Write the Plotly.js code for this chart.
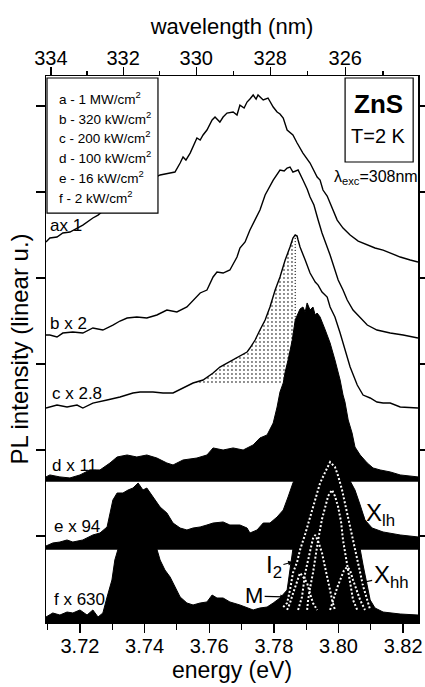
<!DOCTYPE html>
<html><head><meta charset="utf-8">
<script src="https://cdn.plot.ly/plotly-3.0.1.min.js"></script>
<style>html,body{margin:0;padding:0;background:#fff;}#chart{width:425px;height:687px;}</style>
</head><body><div id="chart"></div>
<script>
const FONT = 'Liberation Sans, Arial, Helvetica, sans-serif';

// ---- spectra: photon energy (eV) and intensity above each curve's own baseline (arb. u.) ----
const aE = [3.7095,3.7107,3.7129,3.7147,3.7169,3.7191,3.7209,3.7240,3.7256,3.7293,3.7355,3.7417,3.7448,3.7479,3.7494,3.7510,3.7519,3.7528,3.7541,3.7562,3.7572,3.7581,3.7593,3.7609,3.7618,3.7633,3.7643,3.7655,3.7674,3.7686,3.7695,3.7708,3.7717,3.7726,3.7736,3.7745,3.7751,3.7767,3.7782,3.7798,3.7810,3.7819,3.7829,3.7841,3.7850,3.7859,3.7872,3.7890,3.7912,3.7934,3.7943,3.7952,3.7965,3.7980,3.7996,3.8014,3.8036,3.8061,3.8089,3.8113,3.8138,3.8166,3.8191,3.8222,3.8246];
const aI = [0.267,0.314,0.326,0.372,0.384,0.430,0.465,0.547,0.581,0.698,0.837,0.988,1.047,1.070,1.081,1.186,1.256,1.221,1.302,1.477,1.453,1.512,1.570,1.686,1.721,1.663,1.721,1.767,1.779,1.744,1.860,1.826,1.895,1.930,1.977,1.930,1.977,1.919,1.942,1.837,1.779,1.756,1.709,1.570,1.535,1.512,1.419,1.302,1.186,1.023,0.988,0.872,0.802,0.674,0.523,0.430,0.349,0.279,0.233,0.198,0.174,0.128,0.093,0.058,0.035];

const bE = [3.7095,3.7107,3.7129,3.7147,3.7178,3.7209,3.7240,3.7271,3.7302,3.7324,3.7346,3.7376,3.7407,3.7438,3.7469,3.7500,3.7531,3.7550,3.7572,3.7593,3.7612,3.7624,3.7643,3.7664,3.7686,3.7695,3.7711,3.7726,3.7748,3.7757,3.7773,3.7798,3.7819,3.7832,3.7841,3.7850,3.7859,3.7875,3.7890,3.7903,3.7912,3.7924,3.7937,3.7949,3.7974,3.7999,3.8014,3.8027,3.8045,3.8067,3.8089,3.8119,3.8160,3.8200,3.8246];
const bI = [0.058,0.058,0.035,0.081,0.093,0.081,0.140,0.116,0.174,0.221,0.256,0.267,0.256,0.291,0.349,0.326,0.384,0.465,0.547,0.581,0.733,0.791,0.779,0.814,0.965,1.070,1.140,1.279,1.453,1.512,1.686,1.860,1.977,1.965,2.000,2.012,1.953,1.977,1.860,1.756,1.663,1.570,1.395,1.244,0.988,0.698,0.581,0.465,0.349,0.267,0.174,0.116,0.081,0.058,0.023];

const cE = [3.7095,3.7107,3.7129,3.7160,3.7191,3.7209,3.7240,3.7284,3.7324,3.7364,3.7386,3.7426,3.7457,3.7488,3.7519,3.7550,3.7581,3.7612,3.7633,3.7655,3.7686,3.7717,3.7726,3.7742,3.7757,3.7773,3.7788,3.7804,3.7819,3.7835,3.7850,3.7859,3.7866,3.7872,3.7875,3.7881,3.7897,3.7912,3.7928,3.7937,3.7949,3.7965,3.7974,3.7989,3.8005,3.8020,3.8036,3.8058,3.8076,3.8098,3.8119,3.8138,3.8160,3.8191,3.8246];
const cI = [0.023,0.035,0.058,0.035,0.058,0.023,0.081,0.116,0.151,0.198,0.209,0.209,0.198,0.198,0.256,0.314,0.349,0.430,0.500,0.547,0.616,0.674,0.721,0.814,0.930,1.047,1.198,1.395,1.547,1.744,1.895,2.000,2.035,2.023,1.977,1.895,1.744,1.593,1.488,1.453,1.372,1.314,1.198,1.081,0.895,0.698,0.500,0.291,0.174,0.140,0.093,0.081,0.081,0.035,0.023];

const dE = [3.7095,3.7107,3.7138,3.7169,3.7200,3.7231,3.7262,3.7293,3.7315,3.7346,3.7376,3.7407,3.7438,3.7469,3.7488,3.7519,3.7562,3.7593,3.7612,3.7643,3.7674,3.7705,3.7736,3.7757,3.7779,3.7798,3.7810,3.7819,3.7829,3.7835,3.7844,3.7850,3.7857,3.7866,3.7875,3.7881,3.7890,3.7897,3.7903,3.7912,3.7921,3.7928,3.7934,3.7943,3.7959,3.7974,3.7989,3.8005,3.8014,3.8020,3.8030,3.8042,3.8051,3.8067,3.8089,3.8107,3.8129,3.8160,3.8191,3.8246];
const dI = [0.047,0.070,0.047,0.035,0.070,0.128,0.128,0.209,0.279,0.302,0.279,0.302,0.267,0.209,0.186,0.244,0.267,0.302,0.384,0.360,0.384,0.360,0.419,0.500,0.535,0.674,0.860,1.035,1.140,1.267,1.407,1.523,1.640,1.872,1.953,2.000,2.023,1.965,2.070,1.988,2.023,1.930,1.953,1.907,1.756,1.605,1.407,1.174,1.000,0.919,0.709,0.558,0.395,0.302,0.209,0.151,0.128,0.105,0.070,0.047];

const eE = [3.7095,3.7116,3.7138,3.7160,3.7178,3.7209,3.7240,3.7262,3.7284,3.7293,3.7302,3.7315,3.7333,3.7349,3.7364,3.7380,3.7395,3.7407,3.7426,3.7448,3.7469,3.7488,3.7510,3.7531,3.7550,3.7572,3.7593,3.7612,3.7643,3.7664,3.7695,3.7717,3.7726,3.7748,3.7767,3.7788,3.7810,3.7829,3.7844,3.7859,3.7881,3.7928,3.7974,3.8020,3.8036,3.8051,3.8067,3.8082,3.8104,3.8138,3.8191,3.8246];
const eI = [0.035,0.070,0.081,0.105,0.081,0.105,0.163,0.186,0.256,0.419,0.570,0.651,0.651,0.686,0.709,0.767,0.686,0.709,0.605,0.488,0.419,0.302,0.244,0.221,0.244,0.256,0.279,0.302,0.314,0.279,0.279,0.244,0.186,0.221,0.302,0.302,0.372,0.453,0.605,0.767,0.919,1.012,1.058,0.919,0.791,0.686,0.512,0.337,0.244,0.198,0.163,0.140];

const fE = [3.7095,3.7116,3.7138,3.7160,3.7178,3.7200,3.7222,3.7240,3.7256,3.7271,3.7284,3.7299,3.7308,3.7318,3.7376,3.7438,3.7448,3.7463,3.7479,3.7494,3.7510,3.7531,3.7550,3.7572,3.7593,3.7609,3.7624,3.7643,3.7664,3.7695,3.7717,3.7736,3.7757,3.7779,3.7798,3.7819,3.7841,3.7850,3.7859,3.7959,3.8067,3.8076,3.8089,3.8098,3.8113,3.8138,3.8191,3.8246];
const fI = [0.058,0.105,0.081,0.116,0.105,0.140,0.081,0.140,0.058,0.105,0.291,0.488,0.721,0.849,0.849,0.849,0.721,0.605,0.523,0.407,0.291,0.221,0.198,0.221,0.233,0.314,0.279,0.279,0.233,0.198,0.163,0.140,0.163,0.174,0.221,0.279,0.372,0.605,0.849,0.849,0.849,0.663,0.430,0.256,0.163,0.116,0.093,0.081];

// ---- line-shape fit components drawn in panel f ----
const sumE = [3.7829,3.7841,3.7850,3.7859,3.7872,3.7881,3.7897,3.7912,3.7928,3.7943,3.7959,3.7974,3.7989,3.7999,3.8011,3.8020,3.8030,3.8042,3.8051,3.8067,3.8076,3.8089,3.8098];
const sumI = [0.174,0.221,0.372,0.570,0.698,0.837,1.023,1.221,1.430,1.616,1.744,1.860,1.802,1.698,1.535,1.384,1.221,1.012,0.872,0.570,0.420,0.256,0.140];
const xlhE = [3.7903,3.7906,3.7912,3.7921,3.7937,3.7949,3.7959,3.7968,3.7980,3.7989,3.7999,3.8008,3.8014,3.8030,3.8036,3.8045,3.8058];
const xlhI = [0.140,0.256,0.395,0.570,0.953,1.198,1.337,1.465,1.535,1.465,1.337,1.163,0.953,0.570,0.420,0.256,0.140];
const i2E = [3.7875,3.7887,3.7897,3.7906,3.7912,3.7921,3.7928,3.7937,3.7949,3.7959,3.7965,3.7974,3.7980,3.7989];
const i2I = [0.140,0.291,0.570,0.720,0.837,0.970,1.012,0.940,0.802,0.650,0.523,0.370,0.256,0.140];
const mE = [3.7841,3.7850,3.7859,3.7866,3.7881,3.7890,3.7903,3.7912,3.7921,3.7934];
const mI = [0.140,0.221,0.330,0.407,0.570,0.530,0.453,0.330,0.221,0.140];
const xhhE = [3.7974,3.7983,3.7996,3.8005,3.8017,3.8027,3.8036,3.8045,3.8058,3.8067,3.8082];
const xhhI = [0.140,0.256,0.400,0.488,0.600,0.640,0.600,0.488,0.350,0.256,0.140];

// ---- text ----
const curveLabels = ['ax 1', 'b x 2', 'c x 2.8', 'd x 11', 'e x 94', 'f x 630'];
const legendLabels = ['a - 1 MW/cm<sup>2</sup>', 'b - 320 kW/cm<sup>2</sup>', 'c - 200 kW/cm<sup>2</sup>',
                      'd - 100 kW/cm<sup>2</sup>', 'e - 16 kW/cm<sup>2</sup>', 'f - 2 kW/cm<sup>2</sup>'];
const wlMajor = [334, 332, 330, 328, 326];
const wlMinor = [333, 331, 329, 327, 325];

// ---- layout parameters ----
const offs = {a: 4.151, b: 3.279, c: 2.465, d: 1.640, e: 0.849, f: 0};
const HC = 1239.84, N_AIR = 1.00029;
const toE = wl => HC / (wl * N_AIR);
const shift = (arr, o) => arr.map(v => v + o);
const flat = (arr, o) => arr.map(() => o);

const black = '#000';
const lineW = 1.4;

// stipple region under c left of its maximum
const cPk = cI.indexOf(Math.max(...cI));
const stipIdx = cE.map((e, i) => i).filter(i => i <= cPk && cE[i] >= 3.755);
const stipE = stipIdx.map(i => cE[i]);
const stipY = stipIdx.map(i => cI[i] + offs.c);
const stipFloor = offs.c + 0.3;
// d value nearest c-peak energy
let dNear = 0, best = 1e9;
dE.forEach((e, i) => { const dd = Math.abs(e - cE[cPk]); if (dd < best) { best = dd; dNear = i; } });

const traces = [
  {x: fE, y: shift(fI, offs.f), mode: 'lines', fill: 'tozeroy', fillcolor: black, line: {color: black, width: 1}},
  {x: stipE, y: flat(stipE, stipFloor), mode: 'lines', line: {width: 0, color: 'rgba(0,0,0,0)'}},
  {x: stipE, y: stipY, mode: 'lines', fill: 'tonexty', fillcolor: 'rgba(0,0,0,0)',
   fillpattern: {shape: '.', fgcolor: '#666', size: 4, solidity: 0.18}, line: {width: 0, color: 'rgba(0,0,0,0)'}},
  {x: eE, y: flat(eE, offs.e), mode: 'lines', line: {color: black, width: 1.5}},
  {x: eE, y: shift(eI, offs.e), mode: 'lines', fill: 'tonexty', fillcolor: black, line: {color: black, width: 1}},
  {x: dE, y: flat(dE, offs.d), mode: 'lines', line: {color: black, width: 1.5}},
  {x: dE, y: shift(dI, offs.d), mode: 'lines', fill: 'tonexty', fillcolor: black, line: {color: black, width: 1}},
  {x: cE, y: shift(cI, offs.c), mode: 'lines', line: {color: black, width: lineW}},
  {x: bE, y: shift(bI, offs.b), mode: 'lines', line: {color: black, width: lineW}},
  // curve a is plotted against the (identically scaled) top axis so that axis is drawn
  {x: aE, y: shift(aI, offs.a), xaxis: 'x2', mode: 'lines', line: {color: black, width: lineW}},
  {x: [cE[cPk], cE[cPk]], y: [cI[cPk] + offs.c, dI[dNear] + offs.d], mode: 'lines',
   line: {color: black, width: 1, dash: '1px,2px'}},
];
[[sumE, sumI], [xlhE, xlhI], [i2E, i2I], [mE, mI], [xhhE, xhhI]].forEach(([xe, yi]) => {
  traces.push({x: xe, y: shift(yi, offs.f), mode: 'lines', line: {color: '#fff', width: 2, dash: '2px,2px'}});
});
traces.forEach(t => { t.showlegend = false; t.hoverinfo = 'skip'; });

const annotations = [];
const curveLabelPos = [[0.0054, 0.7271], [0.0054, 0.5458], [0.0108, 0.4176], [0.0108, 0.2875], [0.0161, 0.1740], [0.0161, 0.0403]];
curveLabels.forEach((t, i) => annotations.push({
  text: t, xref: 'paper', yref: 'paper', x: curveLabelPos[i][0], y: curveLabelPos[i][1],
  xanchor: 'left', yanchor: 'middle', showarrow: false, font: {family: FONT, size: 17, color: black}}));
const legY = [0.9597, 0.9231, 0.8883, 0.8516, 0.8150, 0.7784];
legendLabels.forEach((t, i) => annotations.push({
  text: t, xref: 'paper', yref: 'paper', x: 0.0296, y: legY[i],
  xanchor: 'left', yanchor: 'middle', showarrow: false, font: {family: FONT, size: 13.5, color: black}}));
const boxText = {xref: 'paper', yref: 'paper', xanchor: 'center', yanchor: 'middle', showarrow: false};
annotations.push(
  Object.assign({text: '<b>ZnS</b>', x: 0.895, y: 0.9487, font: {family: FONT, size: 26, color: black}}, boxText),
  Object.assign({text: 'T=2 K', x: 0.895, y: 0.890, font: {family: FONT, size: 20, color: black}}, boxText),
  Object.assign({text: 'λ<sub>exc</sub>=308nm', x: 0.887, y: 0.815, font: {family: FONT, size: 16, color: black}}, boxText),
  {text: 'X<sub>lh</sub>', x: 3.8061, y: 1.209, ax: 22, ay: -4, showarrow: true, arrowhead: 0, arrowwidth: 1.2, arrowcolor: black, font: {family: FONT, size: 24, color: black}},
  {text: 'X<sub>hh</sub>', x: 3.8067, y: 0.453, ax: 31, ay: -7, showarrow: true, arrowhead: 2, arrowsize: 0.8, arrowwidth: 1.2, arrowcolor: black, font: {family: FONT, size: 24, color: black}},
  {text: 'I<sub>2</sub>', x: 3.7859, y: 0.698, ax: -19, ay: 5, showarrow: true, arrowhead: 2, arrowsize: 0.8, arrowwidth: 1.2, arrowcolor: black, font: {family: FONT, size: 24, color: black}},
  {text: 'M', x: 3.7835, y: 0.291, ax: -31, ay: -1, showarrow: true, arrowhead: 2, arrowsize: 0.8, arrowwidth: 1.2, arrowcolor: black, font: {family: FONT, size: 22, color: black}}
);

const shapes = [
  {type: 'rect', xref: 'paper', yref: 'paper', x0: 0.0027, x1: 0.301, y0: 0.749, y1: 0.9963, fillcolor: '#fff', line: {color: black, width: 1.2}, layer: 'above'},
  {type: 'rect', xref: 'paper', yref: 'paper', x0: 0.804, x1: 0.987, y0: 0.8425, y1: 0.9963, fillcolor: '#fff', line: {color: black, width: 1.2}, layer: 'above'}
];

const xRange = [3.7095, 3.8246];
const layout = {
  width: 425, height: 687,
  margin: {l: 46, r: 7, t: 76, b: 65},
  paper_bgcolor: '#fff', plot_bgcolor: '#fff',
  font: {family: FONT, color: black},
  showlegend: false,
  xaxis: {
    range: xRange, tick0: 3.72, dtick: 0.02, tickformat: '.2f',
    ticks: 'outside', ticklen: 9, tickwidth: 1.3, tickcolor: black, ticklabelstandoff: -4,
    minor: {dtick: 0.01, tick0: 3.71, ticks: 'outside', ticklen: 6, tickwidth: 1.2, tickcolor: black},
    showline: true, linewidth: 1.5, linecolor: black, showgrid: false, zeroline: false,
    tickfont: {family: FONT, size: 20, color: black},
    title: {text: 'energy (eV)', font: {family: FONT, size: 23, color: black}, standoff: 6}
  },
  xaxis2: {
    overlaying: 'x', side: 'top', anchor: 'y', range: xRange,
    tickmode: 'array', tickvals: wlMajor.map(toE), ticktext: wlMajor.map(String),
    ticks: 'outside', ticklen: 8, tickwidth: 1.3, tickcolor: black, ticklabelstandoff: -6,
    minor: {tickmode: 'array', tickvals: wlMinor.map(toE), ticks: 'outside', ticklen: 4, tickwidth: 1.2, tickcolor: black},
    showline: true, linewidth: 1.5, linecolor: black, showgrid: false, zeroline: false,
    tickfont: {family: FONT, size: 20, color: black},
    title: {text: 'wavelength (nm)', font: {family: FONT, size: 22, color: black}, standoff: 6}
  },
  yaxis: {
    range: [0, 6.349], tickmode: 'array', tickvals: [1, 2, 3, 4, 5, 6], showticklabels: false,
    ticks: 'outside', ticklen: 9, tickwidth: 1.3, tickcolor: black,
    showline: true, mirror: 'ticks', linewidth: 1.5, linecolor: black, showgrid: false, zeroline: false,
    title: {text: 'PL intensity (linear u.)', font: {family: FONT, size: 24, color: black}, standoff: 0}
  },
  annotations: annotations,
  shapes: shapes
};

Plotly.newPlot('chart', traces, layout, {displayModeBar: false, staticPlot: true});
</script>
</body></html>
